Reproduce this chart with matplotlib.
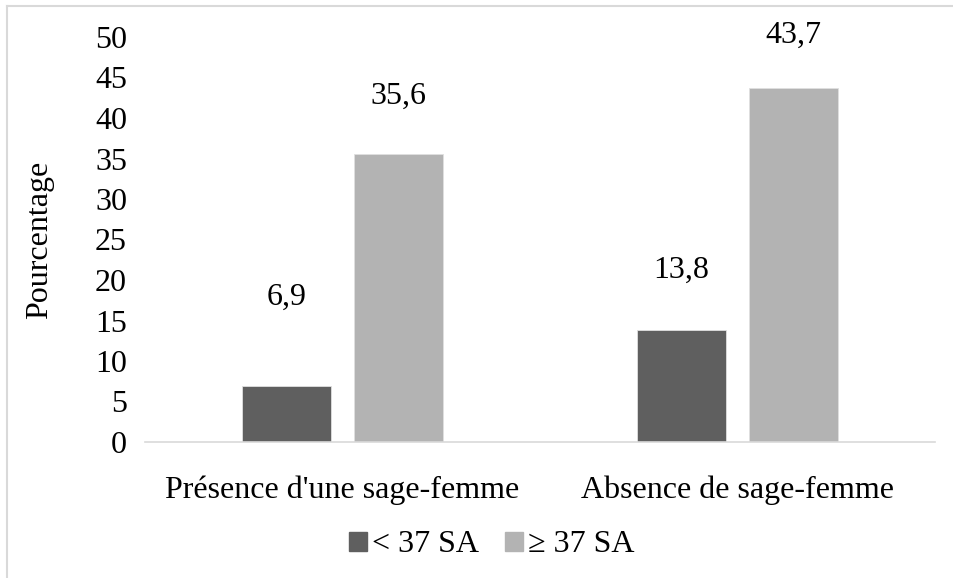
import matplotlib
matplotlib.use("Agg")
import matplotlib.pyplot as plt
import numpy as np
from matplotlib.lines import Line2D

categories = ["Présence d'une sage-femme", "Absence de sage-femme"]
series_names = ["< 37 SA", "≥ 37 SA"]
values_lt37 = [6.9, 13.8]
values_ge37 = [35.6, 43.7]
labels_lt37 = ["6,9", "13,8"]
labels_ge37 = ["35,6", "43,7"]
yticks = [0, 5, 10, 15, 20, 25, 30, 35, 40, 45, 50]

colors = ["#5f5f5f", "#b3b3b3"]
plt.rcParams['font.family'] = ['Liberation Serif', 'DejaVu Serif']
FS = 23

fig = plt.figure(figsize=(9.54, 5.78), dpi=100)
ax = fig.add_axes([145/954, 1-442/578, (935-145)/954, (442-37)/578])

x = np.arange(len(categories))
w = 0.225
off = 0.1425
b1 = ax.bar(x - off, values_lt37, w, color=colors[0], edgecolor="#e0e0e0", linewidth=0.6, label=series_names[0])
b2 = ax.bar(x + off, values_ge37, w, color=colors[1], edgecolor="#e0e0e0", linewidth=0.6, label=series_names[1])

# label offsets in points
offs1 = [64, 43]
offs2 = [41, 38]
for rect, lab, o in zip(b1, labels_lt37, offs1):
    ax.annotate(lab, (rect.get_x() + rect.get_width()/2, rect.get_height()),
                xytext=(0, o), textcoords="offset points", ha="center", va="center", fontsize=FS)
for rect, lab, o in zip(b2, labels_ge37, offs2):
    ax.annotate(lab, (rect.get_x() + rect.get_width()/2, rect.get_height()),
                xytext=(0, o), textcoords="offset points", ha="center", va="center", fontsize=FS)

ax.set_xlim(-0.5, 1.5)
ax.set_ylim(0, 50)
ax.set_yticks(yticks)
ax.set_yticklabels([str(t) for t in yticks], fontsize=FS)
ax.set_xticks(x)
ax.set_xticklabels(categories, fontsize=FS)
ax.tick_params(axis='both', length=0)
ax.tick_params(axis='y', pad=13)
ax.tick_params(axis='x', pad=24)
for s in ["top", "right", "left"]:
    ax.spines[s].set_visible(False)
ax.spines["bottom"].set_color("#d9d9d9")
ax.spines["bottom"].set_linewidth(1.2)
ax.set_ylabel("Pourcentage", fontsize=FS)
ax.yaxis.set_label_coords(-0.115, 0.5)

handles = [plt.Rectangle((0, 0), 1, 1, color=c) for c in colors]
fig.legend(handles, series_names, loc="center", bbox_to_anchor=(492/954, 1-545/578),
           ncol=2, frameon=False, fontsize=FS, handlelength=0.55, handleheight=0.55,
           handletextpad=0.18, columnspacing=0.8)

fig.add_artist(Line2D([7/954, 7/954], [0, 1-5.5/578], transform=fig.transFigure, color="#d9d9d9", linewidth=1.5))
fig.add_artist(Line2D([7/954, 1], [1-5.5/578, 1-5.5/578], transform=fig.transFigure, color="#d9d9d9", linewidth=1.5))

fig.savefig("out.png", dpi=100)
